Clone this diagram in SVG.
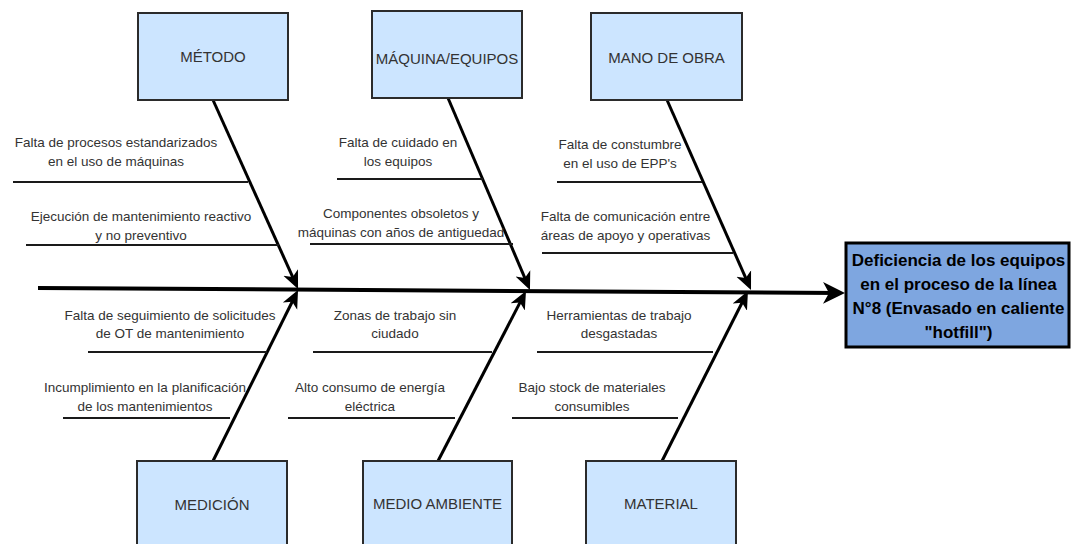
<svg xmlns="http://www.w3.org/2000/svg" width="1071" height="544" viewBox="0 0 1071 544">
  <style>
    .cat rect { fill: #cce5ff; stroke: #2b2b2b; stroke-width: 2; }
    .cat text { font-family: "Liberation Sans", Arial, sans-serif; font-size: 15px; fill: #333; text-anchor: middle; }
    .cause text { font-family: "Liberation Sans", Arial, sans-serif; font-size: 13.5px; fill: #333; text-anchor: middle; }
    .cause line { stroke: #1a1a1a; stroke-width: 2; }
    .bone { stroke: #000; stroke-width: 3; fill: none; }
    .spine { stroke: #000; stroke-width: 4; fill: none; }
    .effect rect { fill: #7ea6e0; stroke: #000; stroke-width: 3; }
    .effect text { font-family: "Liberation Sans", Arial, sans-serif; font-size: 17px; font-weight: bold; fill: #000; text-anchor: middle; }
  </style>
  <defs>
    <marker id="headBig" markerUnits="userSpaceOnUse" markerWidth="24" markerHeight="24" refX="17" refY="12" orient="auto">
      <path d="M0,1 L22,12 L0,23 L6,12 Z" fill="#000"/>
    </marker>
    <marker id="head" markerUnits="userSpaceOnUse" markerWidth="20" markerHeight="20" refX="13" refY="9" orient="auto">
      <path d="M0,1 L18,9 L0,17 L5,9 Z" fill="#000"/>
    </marker>
  </defs>

  <rect width="1071" height="544" fill="#fff"/>

  <!-- connectors: spine and category bones -->
  <g id="connectors">
    <line class="spine" x1="38" y1="288" x2="840" y2="293" marker-end="url(#headBig)"/>
    <line class="bone" x1="213" y1="100" x2="296" y2="284.4" marker-end="url(#head)"/>
    <line class="bone" x1="448" y1="98" x2="528" y2="285.4" marker-end="url(#head)"/>
    <line class="bone" x1="667" y1="100" x2="749" y2="285.4" marker-end="url(#head)"/>
    <line class="bone" x1="213" y1="461" x2="295.8" y2="294.5" marker-end="url(#head)"/>
    <line class="bone" x1="438" y1="461" x2="523.7" y2="295.4" marker-end="url(#head)"/>
    <line class="bone" x1="662" y1="461" x2="745.7" y2="295.5" marker-end="url(#head)"/>
  </g>

  <!-- category boxes -->
  <g id="metodo" class="cat">
    <rect x="138" y="13" width="150" height="87"/>
    <text x="213" y="62">MÉTODO</text>
  </g>
  <g id="maquina" class="cat">
    <rect x="372" y="11" width="150" height="87"/>
    <text x="447" y="64">MÁQUINA/EQUIPOS</text>
  </g>
  <g id="mano-obra" class="cat">
    <rect x="591" y="13" width="151" height="87"/>
    <text x="666.5" y="63">MANO DE OBRA</text>
  </g>
  <g id="medicion" class="cat">
    <rect x="137" y="461" width="150" height="90"/>
    <text x="212" y="510">MEDICIÓN</text>
  </g>
  <g id="medio-ambiente" class="cat">
    <rect x="363" y="461" width="149" height="90"/>
    <text x="437.5" y="509">MEDIO AMBIENTE</text>
  </g>
  <g id="material" class="cat">
    <rect x="586" y="461" width="150" height="90"/>
    <text x="661" y="509">MATERIAL</text>
  </g>

  <!-- causes: método -->
  <g id="cause-metodo-1" class="cause">
    <text x="116" y="147">Falta de procesos estandarizados</text>
    <text x="116" y="166">en el uso de máquinas</text>
    <line x1="13" y1="182" x2="248" y2="182"/>
  </g>
  <g id="cause-metodo-2" class="cause">
    <text x="141" y="221">Ejecución de mantenimiento reactivo</text>
    <text x="141" y="240">y no preventivo</text>
    <line x1="26" y1="245" x2="279" y2="245"/>
  </g>

  <!-- causes: máquina/equipos -->
  <g id="cause-maquina-1" class="cause">
    <text x="398" y="146.5">Falta de cuidado en</text>
    <text x="398" y="166">los equipos</text>
    <line x1="337" y1="179" x2="483" y2="179"/>
  </g>
  <g id="cause-maquina-2" class="cause">
    <text x="401" y="218">Componentes obsoletos y</text>
    <text x="401" y="237">máquinas con años de antiguedad</text>
    <line x1="310" y1="244" x2="513" y2="244"/>
  </g>

  <!-- causes: mano de obra -->
  <g id="cause-mano-1" class="cause">
    <text x="620" y="149">Falta de constumbre</text>
    <text x="620" y="168">en el uso de EPP's</text>
    <line x1="557" y1="182" x2="702" y2="182"/>
  </g>
  <g id="cause-mano-2" class="cause">
    <text x="625.5" y="221">Falta de comunicación entre</text>
    <text x="625.5" y="240">áreas de apoyo y operativas</text>
    <line x1="542" y1="253" x2="733" y2="253"/>
  </g>

  <!-- causes: medición -->
  <g id="cause-medicion-1" class="cause">
    <text x="170" y="320">Falta de seguimiento de solicitudes</text>
    <text x="170" y="338">de OT de mantenimiento</text>
    <line x1="88" y1="352" x2="267" y2="352"/>
  </g>
  <g id="cause-medicion-2" class="cause">
    <text x="145" y="392">Incumplimiento en la planificación</text>
    <text x="145" y="411">de los mantenimientos</text>
    <line x1="63" y1="418" x2="230" y2="418"/>
  </g>

  <!-- causes: medio ambiente -->
  <g id="cause-medio-1" class="cause">
    <text x="395" y="320">Zonas de trabajo sin</text>
    <text x="395" y="338">ciudado</text>
    <line x1="313" y1="352" x2="492" y2="352"/>
  </g>
  <g id="cause-medio-2" class="cause">
    <text x="370" y="392">Alto consumo de energía</text>
    <text x="370" y="411">eléctrica</text>
    <line x1="288" y1="418" x2="455" y2="418"/>
  </g>

  <!-- causes: material -->
  <g id="cause-material-1" class="cause">
    <text x="619" y="320">Herramientas de trabajo</text>
    <text x="619" y="338">desgastadas</text>
    <line x1="537" y1="352" x2="713" y2="352"/>
  </g>
  <g id="cause-material-2" class="cause">
    <text x="592" y="392">Bajo stock de materiales</text>
    <text x="592" y="411">consumibles</text>
    <line x1="512" y1="418" x2="678" y2="418"/>
  </g>

  <!-- effect -->
  <g id="effect" class="effect">
    <rect x="846" y="243" width="223" height="104"/>
    <text x="958.5" y="266">Deficiencia de los equipos</text>
    <text x="958.5" y="290">en el proceso de la línea</text>
    <text x="958.5" y="314">N°8 (Envasado en caliente</text>
    <text x="958.5" y="338">"hotfill")</text>
  </g>
</svg>
